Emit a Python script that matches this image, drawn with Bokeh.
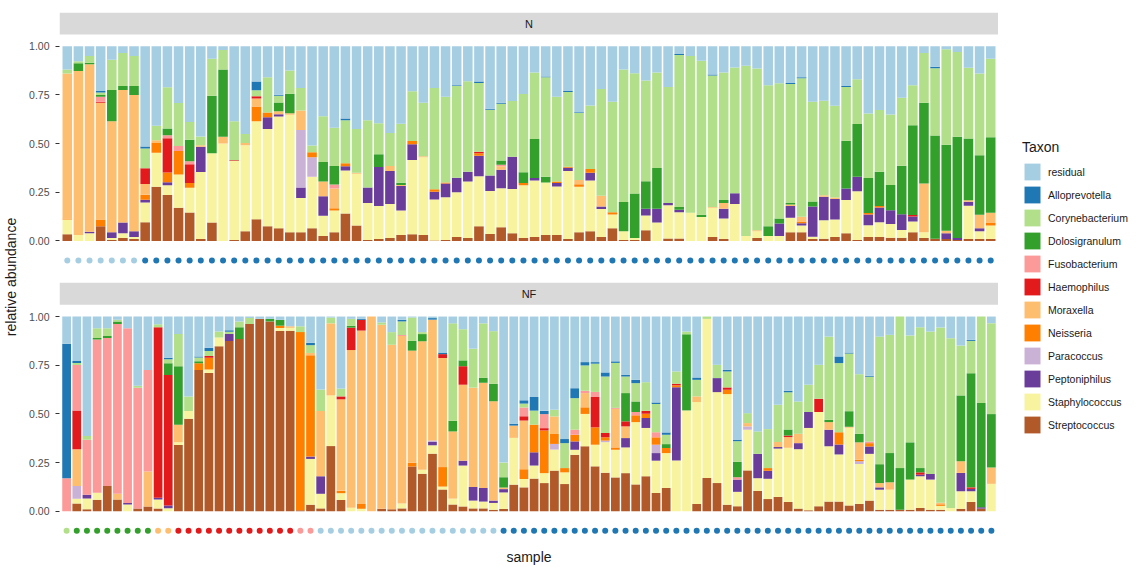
from bokeh.plotting import figure
from bokeh.models import (ColumnDataSource, FactorRange, Range1d, FixedTicker, BoxAnnotation,
                          Label, Legend, LegendItem, CustomJSTickFormatter, LinearAxis)
from bokeh.layouts import row
from bokeh.embed import file_html
from bokeh.resources import INLINE

FONT = "Liberation Sans"

TAXA = ["residual", "Alloprevotella", "Corynebacterium", "Dolosigranulum", "Fusobacterium",
        "Haemophilus", "Moraxella", "Neisseria", "Paracoccus", "Peptoniphilus",
        "Staphylococcus", "Streptococcus"]
COLORS = ["#a6cee3", "#1f78b4", "#b2df8a", "#33a02c", "#fb9a99", "#e31a1c",
          "#fdbf6f", "#ff7f00", "#cab2d6", "#6a3d9a", "#f7f39f", "#b15928"]

# ---------------- panel N (84 samples) ----------------
N_samples = ["N%02d" % (i + 1) for i in range(84)]
N_cluster = [6] * 7 + [7] * 77

N_residual = [.12, .077, .05, .23, .07, .035, .05, .51, .41, .21,
              .29, .385, .465, .065, .02, .385, .45, .18, .16, .25,
              .125, .215, .51, .36, .415, .37, .425, .38, .395, .435,
              .395, .23, .29, .215, .26, .2, .18, .18, .32, .29,
              .28, .245, .135, .155, .26, .23, .34, .305, .22, .285,
              .12, .14, .175, .135, .21, .04, .05, .075, .145, .135,
              .11, .1, .115, .2, .19, .19, .16, .285, .28, .305,
              .205, .17, .345, .325, .35, .265, .2, .035, .105, .015,
              .03, .11, .14, .065]
N_Alloprevotella = [0, 0, 0, .008, 0, 0, 0, .01, 0, 0,
                    0, 0, 0, 0, 0, 0, 0, .045, 0, .005,
                    0, 0, 0, 0, 0, .008, 0, 0, 0, 0,
                    0, 0, 0, 0, 0, .005, 0, .008, .005, .005,
                    0, 0, 0, .005, 0, .005, .005, 0, 0, 0,
                    0, 0, 0, 0, 0, .005, 0, 0, .005, 0,
                    0, 0, 0, 0, 0, .005, .005, 0, 0, 0,
                    .005, 0, 0, 0, 0, 0, 0, 0, .008, 0,
                    0, 0, 0, 0]
N_Corynebacterium = [.02, .01, .035, .012, .155, .17, .155, .1, .075, .21,
                     .22, .09, .045, .19, .1, .2, .045, .03, .18, .035,
                     .12, .115, .035, .235, .195, .22, .225, .345, .16, .165,
                     .3, .255, .275, .52, .44, .47, .465, .35, .335, .29,
                     .285, .4, .34, .51, .435, .385, .345, .325, .55, .565,
                     .68, .62, .515, .49, .595, .78, .805, .79, .675, .655,
                     .645, .875, .83, .725, .695, .615, .715, .51, .485, .47,
                     .275, .23, .33, .315, .36, .35, .205, .255, .345, .49,
                     .435, .36, .42, .405]
N_Dolosigranulum = [0, .04, .008, .01, .16, .02, .045, 0, 0, .035,
                    0, .11, 0, .295, .345, 0, 0, 0, 0, .045,
                    .1, 0, 0, .1, .095, 0, 0, 0, .065, 0,
                    .012, 0, 0, 0, 0, 0, 0, 0, 0, .022,
                    0, .055, .2, .03, 0, 0, 0, 0, 0, 0,
                    .15, .23, .14, .21, 0, .015, 0, .012, 0, .015,
                    0, 0, 0, .05, .025, .008, 0, .025, 0, 0,
                    .245, .27, .18, .175, .13, .25, .46, .415, .53, .44,
                    .52, .315, .305, .39]
N_Fusobacterium = [0, 0, 0, .025, 0, 0, 0, 0, 0, .015,
                   .025, .015, 0, 0, 0, 0, 0, 0, 0, 0,
                   0, 0, 0, 0, .02, 0, 0, 0, 0, 0,
                   0, 0, 0, 0, 0, 0, 0, 0, 0, .008,
                   0, 0, 0, 0, 0, 0, 0, 0, 0, 0,
                   0, 0, 0, 0, 0, 0, 0, 0, 0, 0,
                   0, 0, 0, 0, 0, 0, 0, 0, 0, 0,
                   0, 0, 0, 0, 0, 0, 0, 0, 0, 0,
                   0, 0, 0, 0]
N_Haemophilus = [0, 0, 0, .005, 0, 0, 0, .08, 0, .175,
                 0, .095, 0, 0, 0, .005, 0, .012, 0, 0,
                 0, 0, 0, 0, 0, 0, 0, 0, 0, 0,
                 0, 0, 0, 0, 0, 0, 0, .008, 0, 0,
                 0, 0, 0, 0, 0, 0, 0, 0, 0, 0,
                 0, 0, 0, 0, 0, 0, 0, 0, 0, 0,
                 0, 0, 0, 0, 0, 0, 0, 0, 0, 0,
                 0, 0, 0, 0, 0, 0, .008, 0, 0, 0,
                 0, 0, 0, 0]
N_Moraxella = [.745, .84, .86, .6, .57, .68, .70, .055, .015, 0,
               0, 0, .008, 0, .035, 0, .012, .04, 0, .015,
               .008, .1, 0, .075, .1, 0, .005, 0, 0, .025,
               .005, 0, .005, 0, 0, 0, 0, 0, 0, .017,
               0, 0, 0, 0, 0, 0, .022, 0, .055, 0,
               0, 0, 0, 0, 0, 0, 0, 0, .005, .03,
               0, 0, .005, 0, 0, .008, .025, 0, .008, .008,
               0, 0, 0, 0, 0, 0, 0, .25, 0, .012,
               0, .008, .07, .05]
N_Neisseria = [.005, 0, 0, .035, 0, 0, 0, .025, .05, .05,
               .12, .025, 0, 0, 0, 0, 0, .075, .025, 0,
               0, 0, .025, 0, .012, .015, 0, 0, 0, 0,
               0, .017, 0, .012, .005, 0, 0, .012, 0, 0,
               0, .012, 0, 0, .008, .005, .012, .02, 0, .012,
               0, 0, 0, 0, 0, 0, 0, 0, 0, 0,
               0, 0, 0, 0, 0, 0, .008, 0, 0, 0,
               0, 0, .008, .008, 0, 0, 0, 0, 0, 0,
               0, 0, 0, .015]
N_Paracoccus = [0, 0, 0, 0, 0, 0, 0, 0, 0, 0,
                0, 0, 0, 0, 0, 0, 0, 0, 0, 0,
                0, .295, .1, 0, 0, 0, 0, 0, 0, 0,
                0, 0, 0, 0, 0, 0, 0, 0, 0, 0,
                0, 0, 0, 0, 0, 0, 0, 0, 0, 0,
                0, 0, 0, 0, 0, 0, 0, 0, 0, 0,
                0, 0, 0, 0, 0, 0, 0, 0, 0, 0,
                0, 0, 0, 0, 0, 0, 0, 0, 0, 0,
                0, 0, 0, 0]
N_Peptoniphilus = [0, 0, .008, 0, .03, .055, .03, .015, 0, .015,
                   0, 0, .13, 0, 0, 0, 0, 0, .06, .012,
                   0, .055, 0, .1, 0, .022, 0, .08, .2, .165,
                   .125, .08, 0, .04, .07, .075, .05, .105, .08, .095,
                   .165, 0, .012, 0, .017, .017, 0, .04, .012, 0,
                   0, 0, .035, .07, .012, .012, 0, 0, 0, .05,
                   .055, 0, 0, 0, .065, .06, .012, .155, .12, .105,
                   .06, .075, .055, .075, .07, .08, .025, 0, 0, .03,
                   .01, .02, .015, 0]
N_Staphylococcus = [.075, .03, .04, 0, .01, .025, .01, .1, .175, .05,
                    .17, .125, .345, .355, .5, .405, .44, .5, .5, .575,
                    .605, .175, .265, .105, .11, .22, .265, .19, .17, .17,
                    .125, .38, .4, .21, .22, .23, .29, .255, .22, .2,
                    .225, .27, .29, .27, .25, .35, .235, .26, .145, .07,
                    .045, .01, .075, .095, .17, .135, .145, .123, .15, .105,
                    .19, .025, .035, .025, .025, .075, .035, .012, .095, .09,
                    .17, .25, .06, .075, .07, .04, .055, .03, 0, 0,
                    0, .17, .04, .07]
N_Streptococcus = [.035, 0, 0, .075, .005, .015, .01, .095, .28, .235,
                   .17, .145, .01, .095, 0, .005, .05, .11, .075, .065,
                   .045, .045, .065, .025, .045, .14, .08, .005, .01, .015,
                   .03, .035, .03, .003, .005, .02, .015, .075, .035, .07,
                   .04, .015, .02, .03, .03, .01, .045, .05, .02, .065,
                   .005, .005, .055, 0, .013, .013, 0, 0, .02, .01,
                   0, 0, .015, 0, 0, .045, .045, .01, .012, .02,
                   .04, .005, .02, .02, .017, .017, .045, .015, .012, .01,
                   .005, .01, .01, .01]

# ---------------- panel NF (92 samples) ----------------
NF_samples = ["NF%02d" % (i + 1) for i in range(92)]
NF_cluster = [1] * 1 + [2] * 8 + [3] * 2 + [4] * 12 + [5] * 2 + [6] * 18 + [7] * 49

NF_residual = [.14, .23, .61, .06, .06, .017, .06, .355, .275, .04,
               .21, .09, .41, .205, .16, .077, .07, .025, .008, .012,
               .012, .017, .05, .05, .135, .375, .005, .37, .012, .012,
               0, .03, .08, .017, .005, .08, .008, .185, .035, .065,
               .165, .035, .075, .75, .55, .43, .413, .484, .479, .629,
               .368, .234, .234, .287, .23, .3, .325, .337, .441, .595,
               .282, .077, .313, 0, .248, .274, .632, .496, .59, .578,
               .453, .381, .436, .35, .248, .103, .205, .185, .296, .304,
               .103, .094, 0, .097, .055, .077, .056, .111, .149, .12,
               0, .034]
NF_Alloprevotella = [.69, .01, 0, 0, 0, 0, 0, 0, 0, 0,
                     .008, 0, 0, .005, .017, 0, .008, 0, 0, 0,
                     0, 0, 0, 0, .012, 0, 0, 0, 0, .005,
                     0, 0, 0, .008, 0, 0, .008, .008, 0, 0,
                     0, 0, 0, 0, .01, .017, .07, .017, 0, .021,
                     .051, .017, .008, .021, .008, .008, .017, 0, .008, .012,
                     0, 0, .012, 0, 0, .008, .008, 0, 0, 0,
                     0, .008, 0, 0, 0, 0, .034, .005, 0, .005,
                     0, 0, 0, 0, 0, 0, 0, 0, 0, .005,
                     0, 0]
NF_Corynebacterium = [0, .01, .02, .05, .04, .008, 0, .01, 0, .015,
                      .02, .165, .075, .02, .025, .03, .012, .03, .03, 0,
                      0, 0, 0, .03, .04, .11, .03, .04, .035, 0,
                      0, .012, .065, .07, .12, .01, 0, 0, .5, .16,
                      .2, .28, .27, .075, 0, .02, .072, 0, .034, .128,
                      .162, .13, .145, .29, .231, .085, .094, .147, .145, .048,
                      .063, .014, .085, .012, .068, .082, .106, .051, .115, .2,
                      .191, .191, .166, .14, .174, .427, .355, .296, .306, .333,
                      .655, .607, .778, .549, .723, .731, .9, .872, .256, .166,
                      .444, .467]
NF_Dolosigranulum = [0, 0, 0, .008, .01, .013, 0, 0, 0, 0,
                     .06, .3, 0, .01, 0, 0, 0, .06, 0, 0,
                     .013, .03, 0, 0, 0, 0, 0, 0, .01, 0,
                     0, 0, 0, 0, .05, .037, 0, 0, .055, .03,
                     0, .025, .09, .053, 0, 0, 0, 0, 0, 0,
                     0, 0, 0, 0, 0, .145, .054, 0, 0, .02,
                     0, .391, 0, 0, 0, 0, .079, 0, 0, 0,
                     0, .031, 0, 0, 0, .012, 0, .08, .044, 0,
                     .097, .15, .214, .191, .022, 0, 0, 0, .338, .586,
                     .535, .274]
NF_Fusobacterium = [.17, .235, .28, .79, .76, .87, .9, .62, .52, 0,
                    0, 0, 0, 0, 0, 0, 0, 0, 0, 0,
                    0, 0, 0, 0, 0, 0, 0, 0, 0, 0,
                    0, 0, 0, .005, 0, 0, 0, 0, 0, 0,
                    0, 0, 0, 0, 0, .045, 0, .072, 0, 0,
                    .026, .012, .026, 0, .005, 0, .017, 0, .026, 0,
                    0, 0, 0, 0, 0, 0, .012, 0, 0, 0,
                    0, 0, 0, 0, 0, 0, 0, 0, 0, .008,
                    0, 0, 0, 0, 0, 0, 0, 0, 0, 0,
                    0, 0]
NF_Haemophilus = [0, .2, 0, 0, 0, 0, 0, 0, 0, .875,
                  .665, 0, 0, 0, .01, 0, 0, 0, 0, 0,
                  0, 0, 0, 0, 0, 0, 0, .015, .115, .055,
                  0, 0, 0, 0, 0, 0, 0, .02, 0, .095,
                  0, 0, 0, 0, 0, .022, 0, .012, 0, 0,
                  0, 0, .156, .022, 0, .026, 0, .015, 0, 0,
                  .008, 0, 0, 0, 0, .012, 0, 0, 0, 0,
                  0, .008, 0, 0, .068, 0, 0, 0, 0, 0,
                  0, 0, 0, 0, .012, 0, 0, 0, 0, .008,
                  0, 0]
NF_Moraxella = [0, .19, 0, 0, 0, .03, 0, 0, .18, 0,
                0, .09, 0, 0, 0, 0, 0, 0, 0, 0,
                0, 0, .008, 0, .012, .335, .37, .47, .81, .89,
                1.0, .945, .845, .86, .575, .66, .62, .56, .345, .39,
                .51, .54, .51, .008, .063, .25, 0, 0, .09, 0,
                0, .073, 0, 0, .198, .06, 0, 0, 0, 0,
                0, 0, .029, 0, 0, 0, 0, .017, 0, 0,
                .026, .055, .048, 0, 0, .039, 0, .005, .089, 0,
                .022, .038, 0, 0, 0, 0, .008, 0, .06, 0,
                0, .084]
NF_Neisseria = [0, 0, 0, 0, 0, 0, 0, 0, 0, 0,
                0, 0, 0, .035, .06, 0, 0, 0, 0, 0,
                0, .012, 0, .915, .52, 0, 0, .012, 0, .025,
                0, 0, 0, 0, .02, 0, 0, .1, 0, 0,
                0, 0, 0, 0, 0, .05, .142, .219, .051, .022,
                .034, .034, .089, .017, .012, 0, .035, .022, .038, .026,
                .01, 0, 0, 0, 0, .022, 0, 0, 0, .014,
                0, 0, 0, 0, 0, 0, .063, 0, .008, .017,
                0, 0, 0, 0, 0, 0, .008, 0, 0, 0,
                0, 0]
NF_Paracoccus = [0, .065, 0, 0, 0, 0, 0, 0, 0, 0,
                 0, 0, 0, 0, 0, 0, 0, 0, 0, 0,
                 0, 0, 0, 0, 0, 0, 0, 0, 0, 0,
                 0, 0, 0, 0, 0, 0, .008, 0, 0, 0,
                 0, 0, 0, 0, 0, 0, 0, 0, .029, 0,
                 0, 0, 0, .008, 0, 0, 0, 0, .043, 0,
                 0, 0, 0, 0, 0, 0, 0, .017, 0, 0,
                 0, 0, 0, 0, 0, 0, 0, 0, .014, 0,
                 0, 0, 0, 0, 0, 0, 0, 0, 0, 0,
                 0, 0]
NF_Peptoniphilus = [0, 0, .02, 0, 0, 0, .008, 0, 0, .01,
                    .015, 0, 0, 0, 0, 0, .035, 0, 0, 0,
                    0, 0, 0, 0, .012, .09, 0, 0, 0, 0,
                    0, 0, 0, 0, 0, 0, .017, 0, 0, .025,
                    .07, .07, .012, .017, 0, 0, .068, 0, 0, 0,
                    .043, 0, 0, 0, 0, .048, 0, .051, .039, 0,
                    .376, 0, 0, 0, .072, 0, .063, 0, .125, .041,
                    .008, 0, .031, .082, 0, .085, .051, 0, 0, .038,
                    .012, 0, 0, 0, .008, .029, 0, 0, .094, .012,
                    .007, 0]
NF_Staphylococcus = [0, .025, .055, .035, 0, 0, .035, 0, 0, .045,
                     .015, .015, .04, 0, .017, .045, 0, 0, 0, 0,
                     0, .015, .015, 0, .235, .075, .26, .035, .018, .013,
                     0, 0, 0, .025, 0, .02, .043, .015, .03, .21,
                     .04, .035, .035, .085, .24, .043, .067, .051, .108, .06,
                     .026, .166, .111, .157, .142, .132, .32, .248, .166, .179,
                     .261, .518, .523, .817, .467, .568, .074, .209, .065, .104,
                     .248, .278, .305, .423, .484, .284, .242, .399, .205, .24,
                     .103, .103, 0, .155, .163, .155, .02, .017, .09, .055,
                     0, .141]
NF_Streptococcus = [0, .04, .01, .06, .13, .06, 0, .015, .025, .015,
                    0, .34, .475, .725, .71, .848, .875, .885, .962, .988,
                    .975, .926, .927, .005, .034, .015, .335, .058, 0, 0,
                    0, .013, .01, .015, .23, .193, .296, .112, .035, .025,
                    .015, .015, .008, .012, .137, .123, .168, .145, .209, .14,
                    .29, .334, .231, .198, .174, .196, .138, .18, .094, .12,
                    0, 0, .038, .171, .145, .034, .026, .21, .105, .063,
                    .074, .048, .014, .005, .026, .05, .05, .03, .038, .055,
                    .008, .008, .008, .008, .017, .008, .008, 0, .013, .048,
                    .014, 0]

CLUSTER_COLORS = {1: "#b2df8a", 2: "#33a02c", 3: "#fdbf6f", 4: "#e31a1c",
                  5: "#fb9a99", 6: "#a6cee3", 7: "#1f78b4"}

N_vals = [N_residual, N_Alloprevotella, N_Corynebacterium, N_Dolosigranulum, N_Fusobacterium,
          N_Haemophilus, N_Moraxella, N_Neisseria, N_Paracoccus, N_Peptoniphilus,
          N_Staphylococcus, N_Streptococcus]
NF_vals = [NF_residual, NF_Alloprevotella, NF_Corynebacterium, NF_Dolosigranulum, NF_Fusobacterium,
           NF_Haemophilus, NF_Moraxella, NF_Neisseria, NF_Paracoccus, NF_Peptoniphilus,
           NF_Staphylococcus, NF_Streptococcus]
for v in N_vals:
    assert len(v) == len(N_samples), len(v)
for v in NF_vals:
    assert len(v) == len(NF_samples), len(v)


def panel_source(samples, vals):
    totals = [sum(col[i] for col in vals) for i in range(len(samples))]
    data = {"sample": samples}
    for name, col in zip(TAXA, vals):
        data[name] = [c / t for c, t in zip(col, totals)]
    return ColumnDataSource(data)


src_N = panel_source(N_samples, N_vals)
src_NF = panel_source(NF_samples, NF_vals)

# layout of the two facets inside one frame (y units = relative abundance)
OFF = 1.388          # vertical shift of the upper facet
Y0 = -0.155          # lower limit of each facet
STRIP_LO, STRIP_HI = 1.06, 1.173
Y1 = OFF + STRIP_HI
DOT_Y = -0.1

p = figure(width=998, height=567, output_backend="svg", toolbar_location=None,
           x_range=FactorRange(factors=NF_samples, range_padding=0.2, range_padding_units="absolute"),
           y_range=Range1d(Y0, Y1), x_axis_location=None,
           min_border_left=59, min_border_right=0, min_border_top=12, min_border_bottom=25)
p.extra_x_ranges = {"top": FactorRange(factors=N_samples, range_padding=0.2,
                                       range_padding_units="absolute")}
p.extra_y_ranges = {"top": Range1d(Y0 - OFF, Y1 - OFF)}

stack = TAXA[::-1]
stack_colors = COLORS[::-1]
p.vbar_stack(stack, x="sample", width=0.86, source=src_NF, fill_color=stack_colors,
             line_color=None)
p.vbar_stack(stack, x="sample", width=0.86, source=src_N, fill_color=stack_colors,
             line_color=None, x_range_name="top", y_range_name="top")

dots_N = ColumnDataSource(dict(sample=N_samples, y=[DOT_Y] * len(N_samples),
                               color=[CLUSTER_COLORS[c] for c in N_cluster]))
dots_NF = ColumnDataSource(dict(sample=NF_samples, y=[DOT_Y] * len(NF_samples),
                                color=[CLUSTER_COLORS[c] for c in NF_cluster]))
p.scatter(x="sample", y="y", source=dots_NF, size=6, fill_color="color", line_color=None)
p.scatter(x="sample", y="y", source=dots_N, size=6, fill_color="color", line_color=None,
          x_range_name="top", y_range_name="top")

# facet strips
for lo, hi in [(STRIP_LO, STRIP_HI), (STRIP_LO + OFF, STRIP_HI + OFF)]:
    p.add_layout(BoxAnnotation(bottom=lo, top=hi, fill_color="#d9d9d9", fill_alpha=1.0,
                               line_color=None, level="underlay"))
p.add_layout(Label(x=len(N_samples) / 2, y=(STRIP_LO + STRIP_HI) / 2, text="N",
                   x_range_name="top", y_range_name="top",
                   text_align="center", text_baseline="middle",
                   text_font=FONT, text_font_size="11px", text_color="#1a1a1a"))
p.add_layout(Label(x=len(NF_samples) / 2, y=(STRIP_LO + STRIP_HI) / 2, text="NF",
                   text_align="center", text_baseline="middle",
                   text_font=FONT, text_font_size="11px", text_color="#1a1a1a"))

# axes
ticks = [0, 0.25, 0.5, 0.75, 1.0]
yax = p.yaxis[0]
yax.ticker = FixedTicker(ticks=ticks + [t + OFF for t in ticks], minor_ticks=[])
yax.formatter = CustomJSTickFormatter(args=dict(off=OFF),
                                      code="const v = tick > 1.2 ? tick - off : tick; return v.toFixed(2);")
yax.axis_line_color = None
yax.major_tick_in = 0
yax.major_tick_out = 4
yax.major_tick_line_color = "#333333"
yax.minor_tick_line_color = None
yax.major_label_text_font = FONT
yax.major_label_text_font_size = "10.5px"
yax.major_label_text_color = "#4d4d4d"
yax.major_label_standoff = 6
yax.axis_label = "relative abundance"
yax.axis_label_text_font = FONT
yax.axis_label_text_font_size = "14px"
yax.axis_label_text_font_style = "normal"
yax.axis_label_text_color = "#1a1a1a"
yax.axis_label_standoff = 7

xax = LinearAxis(ticker=FixedTicker(ticks=[]), axis_line_color=None,
                 major_tick_line_color=None, minor_tick_line_color=None,
                 major_tick_out=0, major_label_standoff=0,
                 axis_label="sample", axis_label_text_font=FONT,
                 axis_label_text_font_size="14px", axis_label_text_font_style="normal",
                 axis_label_text_color="#1a1a1a", axis_label_standoff=7)
p.add_layout(xax, "below")

p.xgrid.visible = False
p.ygrid.visible = False
p.outline_line_color = None
p.background_fill_color = "white"

# legend in its own figure
lg = figure(width=140, height=567, output_backend="svg", toolbar_location=None,
            x_range=Range1d(0, 1), y_range=Range1d(0, 1), x_axis_type=None, y_axis_type=None,
            min_border=0)
lg.grid.visible = False
lg.outline_line_color = None
offscreen = ColumnDataSource(dict(x=[-10], y=[-10]))
items = []
for name, col in zip(TAXA, COLORS):
    r = lg.rect(x="x", y="y", width=1, height=1, source=offscreen, fill_color=col, line_color=None)
    items.append(LegendItem(label=name, renderers=[r]))
legend = Legend(items=items, title="Taxon", location=(24, 106),
                glyph_width=20, glyph_height=21, spacing=2, label_standoff=6,
                padding=0, margin=0, border_line_color=None, background_fill_alpha=0,
                label_text_font=FONT, label_text_font_size="10.5px", label_text_color="#1a1a1a",
                label_height=21,
                title_text_font=FONT, title_text_font_size="14px", title_text_font_style="normal",
                title_text_color="#1a1a1a", title_standoff=6)
lg.add_layout(legend)

layout = row(p, lg)
open("out.html", "w").write(file_html(layout, INLINE))
